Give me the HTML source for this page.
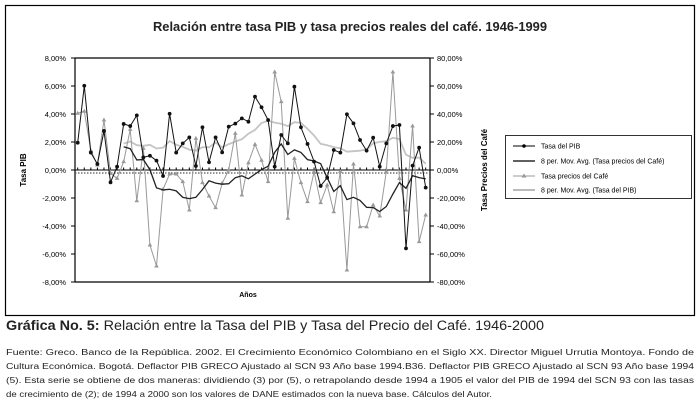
<!DOCTYPE html>
<html><head><meta charset="utf-8"><style>
body{margin:0;background:#fff;width:700px;height:411px;overflow:hidden;font-family:"Liberation Sans",sans-serif}
</style></head><body>
<svg id="c" width="700" height="411" xmlns="http://www.w3.org/2000/svg">
<rect x="5.5" y="5.5" width="689" height="310" fill="none" stroke="#000" stroke-width="1.2"/>
<text x="350" y="31" text-anchor="middle" font-size="13" font-weight="bold" fill="#222" textLength="394" lengthAdjust="spacingAndGlyphs">Relación entre tasa PIB y tasa precios reales del café.  1946-1999</text>
<text transform="translate(26,170) rotate(-90)" text-anchor="middle" font-size="8" font-weight="bold">Tasa PIB</text>
<text transform="translate(487,170) rotate(-90)" text-anchor="middle" font-size="8" font-weight="bold">Tasa Precios del Café</text>
<text x="248" y="297" text-anchor="middle" font-size="7" font-weight="bold">Años</text>
<g id="axes"></g>
<g id="series"></g>
<g>
<rect x="505.5" y="135.5" width="186" height="63" fill="#fff" stroke="#000" stroke-width="0.8"/>
<line x1="513" y1="146" x2="535" y2="146" stroke="#000"/><circle cx="524" cy="146" r="1.8"/>
<text x="541" y="148.5" font-size="7">Tasa del PIB</text>
<line x1="513" y1="161" x2="535" y2="161" stroke="#000" stroke-width="1.3"/>
<text x="541" y="163.5" font-size="7">8 per. Mov. Avg. (Tasa precios del Café)</text>
<line x1="513" y1="176" x2="535" y2="176" stroke="#999"/><path d="M524,173.5 L526.5,177.5 L521.5,177.5Z" fill="#999"/>
<text x="541" y="178.5" font-size="7">Tasa precios del Café</text>
<line x1="513" y1="190" x2="535" y2="190" stroke="#bbb" stroke-width="2"/>
<text x="541" y="192.5" font-size="7">8 per. Mov. Avg. (Tasa del PIB)</text>
</g>
<text x="6" y="330" font-size="13.5" fill="#222" textLength="538" lengthAdjust="spacingAndGlyphs"><tspan font-weight="bold">Gráfica No. 5:</tspan> Relación entre la Tasa del PIB y Tasa del Precio del Café. 1946-2000</text>
<g font-size="8.6" fill="#222">
<text x="6" y="355" textLength="688" lengthAdjust="spacingAndGlyphs">Fuente: Greco. Banco de la República. 2002. El Crecimiento Económico Colombiano en el Siglo XX. Director Miguel Urrutia Montoya. Fondo de</text>
<text x="6" y="369" textLength="688" lengthAdjust="spacingAndGlyphs">Cultura Económica. Bogotá. Deflactor PIB GRECO Ajustado al SCN 93 Año base 1994.B36. Deflactor PIB GRECO Ajustado al SCN 93 Año base 1994</text>
<text x="6" y="383" textLength="688" lengthAdjust="spacingAndGlyphs">(5). Esta serie se obtiene de dos maneras: dividiendo (3) por (5), o retrapolando desde 1994 a 1905 el valor del PIB de 1994 del SCN 93 con las tasas</text>
<text x="6" y="397" textLength="486" lengthAdjust="spacingAndGlyphs">de crecimiento de (2); de 1994 a 2000 son los valores de DANE estimados con la nueva base. Cálculos del Autor.</text>
</g>
</svg>
<script>
const years=[];for(let y=1946;y<=1999;y++)years.push(y);
const pib=[1.95,6.02,1.24,0.43,2.79,-0.88,0.24,3.29,3.14,3.90,0.9,1.02,0.67,-0.43,4.02,1.24,1.9,2.33,0.29,3.05,0.55,2.33,1.26,3.1,3.31,3.69,3.45,5.24,4.48,3.57,0.24,2.5,1.9,5.95,3.05,1.86,0.6,-1.14,-0.55,1.43,1.24,3.98,3.33,2.14,1.38,2.31,0.24,1.9,3.14,3.21,-5.6,0.31,1.6,-1.26];
const cafe=[40.5,42,14,3.6,35.7,-2.4,-6,6,29,-22,15.5,-53.6,-68.6,-13.8,-2.9,-2.9,-8.3,-28.6,22.6,-9,-18.6,-26.9,-9.5,0,26.2,-17.9,5.2,18.3,7,-8.3,70,48.8,-34.5,8.3,-9,-22.6,-1.2,-23.3,-10.7,-29.8,-1.2,-71.4,4.3,-40.5,-40.5,-25,-32.9,-1.2,70,-6,-28.6,31.4,-51.2,-32.1];
const leftTicks=["8,00%","6,00%","4,00%","2,00%","0,00%","-2,00%","-4,00%","-6,00%","-8,00%"];
const rightTicks=["80,00%","60,00%","40,00%","20,00%","0,00%","-20,00%","-40,00%","-60,00%","-80,00%"];
const X0=75,X1=430,Y0=58,Y1=282;
const x=i=>77.7+i*(425.7-77.7)/(years.length-1);
const yl=v=>Y0+(8-v)*(Y1-Y0)/16;
const yr=v=>yl(v/10);
const NS="http://www.w3.org/2000/svg";
function mk(t,a,p){const e=document.createElementNS(NS,t);for(const k in a)e.setAttribute(k,a[k]);p.appendChild(e);return e;}
const ax=document.getElementById('axes'),se=document.getElementById('series');
mk('line',{x1:X0,y1:Y0,x2:X0,y2:Y1,stroke:'#000','stroke-width':1.2},ax);
mk('line',{x1:X1,y1:Y0,x2:X1,y2:Y1,stroke:'#000','stroke-width':1.2},ax);
mk('line',{x1:X0,y1:Y0,x2:X1,y2:Y0,stroke:'#000','stroke-width':1.2},ax);
mk('line',{x1:X0,y1:Y1,x2:X1,y2:Y1,stroke:'#000','stroke-width':1.2},ax);
leftTicks.forEach((t,i)=>{const yy=Y0+i*(Y1-Y0)/8;
 mk('line',{x1:X0-4,y1:yy,x2:X0,y2:yy,stroke:'#000'},ax);
 mk('line',{x1:X1,y1:yy,x2:X1+4,y2:yy,stroke:'#000'},ax);
 const a=mk('text',{x:66,y:yy+3,'text-anchor':'end','font-size':7.5},ax);a.textContent=t;
 
 
 const b=mk('text',{x:437,y:yy+3,'font-size':7.5},ax);b.textContent=rightTicks[i];
 
 
});
mk('line',{x1:X0,y1:yl(0),x2:X1,y2:yl(0),stroke:'#000','stroke-width':1.1},ax);
mk('line',{x1:X0,y1:yl(0)+3,x2:X1,y2:yl(0)+3,stroke:'#555','stroke-width':1.2,'stroke-dasharray':'1.5,1.5'},ax);
years.forEach((y,i)=>mk('line',{x1:x(i),y1:yl(0),x2:x(i),y2:yl(0)-2.5,stroke:'#000'},ax));
function ma(a){const r=[];for(let i=7;i<a.length;i++){let s=0;for(let j=i-7;j<=i;j++)s+=a[j];r.push([i,s/8]);}return r;}
const pl=(pts)=>pts.map(p=>p[0].toFixed(1)+','+p[1].toFixed(1)).join(' ');
let e;
e=mk('polyline',{points:pl(ma(pib).map(([i,v])=>[x(i),yl(v)])),fill:'none',stroke:'#c4c4c4','stroke-width':1.8},se);


e=mk('polyline',{points:pl(cafe.map((v,i)=>[x(i),yr(v)])),fill:'none',stroke:'#999','stroke-width':1},se);


cafe.forEach((v,i)=>{const px=x(i),py=yr(v);
 const t=mk('path',{d:`M${px},${py-2.5} L${px+2.3},${py+1.5} L${px-2.3},${py+1.5}Z`,fill:'#999'},se);
 
 });
e=mk('polyline',{points:pl(ma(cafe).map(([i,v])=>[x(i),yr(v)])),fill:'none',stroke:'#222','stroke-width':1.3},se);


e=mk('polyline',{points:pl(pib.map((v,i)=>[x(i),yl(v)])),fill:'none',stroke:'#111','stroke-width':1},se);


pib.forEach((v,i)=>{const c=mk('circle',{cx:x(i),cy:yl(v),r:1.9,fill:'#111'},se);
 
 });
</script>
</body></html>
